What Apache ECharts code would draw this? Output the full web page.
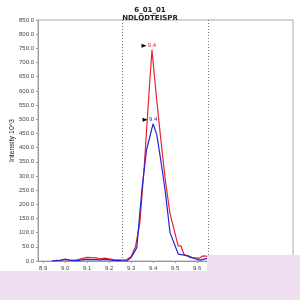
<!DOCTYPE html>
<html>
<head>
<meta charset="utf-8">
<script src="https://cdn.jsdelivr.net/npm/echarts@6/dist/echarts.min.js"></script>
<style>
  html, body { margin: 0; padding: 0; background: #fff; }
  #main { width: 300px; height: 300px; }
</style>
</head>
<body>
<div id="main"></div>
<script>
// retention time (min) and intensity (10^3)
var redTime = [8.94, 8.96, 8.98, 9.00, 9.02, 9.04, 9.06, 9.08, 9.10, 9.12, 9.14, 9.16, 9.18, 9.20, 9.22, 9.24, 9.26, 9.28, 9.30, 9.32, 9.34, 9.36, 9.38, 9.395, 9.415, 9.435, 9.455, 9.477, 9.514, 9.527, 9.54, 9.57, 9.61, 9.625, 9.65];
var redVal  = [0, 2, 3, 5, 3, 2, 5, 9, 13, 12, 11, 8, 10, 8, 5, 4, 3, 5, 15, 50, 135, 335, 575, 745, 580, 430, 290, 167, 53, 53, 24, 12, 10, 18, 16];
var blueTime = [8.94, 8.96, 8.98, 9.00, 9.02, 9.04, 9.06, 9.08, 9.10, 9.12, 9.14, 9.16, 9.18, 9.20, 9.22, 9.24, 9.26, 9.28, 9.30, 9.326, 9.349, 9.37, 9.40, 9.417, 9.436, 9.455, 9.477, 9.515, 9.56, 9.59, 9.614, 9.65];
var blueVal  = [0, 1, 2, 7, 3, 1, 2, 4, 6, 5, 5, 4, 6, 4, 2, 1, 1, 0, 12, 47, 249, 391, 484, 445, 350, 249, 100, 24, 18, 8, 3, 10];
var peakLabel = '9.4';
var boundaries = [9.264, 9.65];
var xTicks = [8.9, 9.0, 9.1, 9.2, 9.3, 9.4, 9.5, 9.6, 9.7, 9.8, 9.9, 10.0];

function pairs(t, v) {
  return t.map(function (x, i) { return [x, v[i]]; });
}

function peakMark(t, v, color) {
  var k = v.indexOf(Math.max.apply(null, v));
  return {
    silent: true,
    data: [
      { coord: [t[k], v[k]], symbol: 'triangle', symbolSize: [4, 5], symbolRotate: -90,
        symbolOffset: [-8, -4], itemStyle: { color: '#000' }, label: { show: false } },
      { coord: [t[k], v[k]], symbol: 'circle', symbolSize: 0,
        label: { show: true, position: 'top', distance: 1, formatter: peakLabel,
                 color: color, fontSize: 6, fontFamily: 'Liberation Sans' } }
    ]
  };
}

var chart = echarts.init(document.getElementById('main'));
chart.setOption({
  animation: false,
  backgroundColor: '#fff',
  title: {
    text: '6_01_01\nNDLQDTEISPR',
    left: 'center',
    top: 1,
    textStyle: { fontSize: 7, fontWeight: 'bold', color: '#222', lineHeight: 8, fontFamily: 'DejaVu Sans' }
  },
  grid: { left: 38, right: 7, top: 20, bottom: 39, outerBoundsMode: 'none', containLabel: false,
          show: true, borderColor: '#aaa', borderWidth: 1 },
  xAxis: {
    type: 'value',
    min: 8.877,
    max: 10.036,
    axisLine: { lineStyle: { color: '#999' } },
    axisTick: { show: true, length: 2, customValues: xTicks, lineStyle: { color: '#999' } },
    axisLabel: { customValues: xTicks, fontSize: 6, color: '#444', margin: 4, fontFamily: 'Liberation Sans',
                 formatter: function (v) { return v.toFixed(1); } },
    splitLine: { show: false }
  },
  yAxis: {
    type: 'value',
    min: 0,
    max: 850,
    interval: 50,
    name: 'Intensity 10^3',
    nameLocation: 'middle',
    nameGap: 22,
    nameMoveOverlap: false,
    nameTextStyle: { fontSize: 7, color: '#222', fontFamily: 'Liberation Sans' },
    axisLine: { show: true, lineStyle: { color: '#999' } },
    axisTick: { show: true, length: 2, lineStyle: { color: '#999' } },
    axisLabel: { fontSize: 6, color: '#444', margin: 4, fontFamily: 'Liberation Sans',
                 formatter: function (v) { return v.toFixed(1); } },
    splitLine: { show: false }
  },
  series: [
    {
      type: 'line',
      data: pairs(redTime, redVal),
      symbol: 'none',
      lineStyle: { color: '#e8242c', width: 1.2 },
      markPoint: peakMark(redTime, redVal, '#e8242c'),
      markLine: {
        silent: true,
        symbol: 'none',
        label: { show: false },
        lineStyle: { color: '#777', type: [1, 2], width: 1 },
        data: boundaries.map(function (b) { return { xAxis: b }; })
      },
      z: 3
    },
    {
      type: 'line',
      data: pairs(blueTime, blueVal),
      symbol: 'none',
      lineStyle: { color: '#2222d8', width: 1.2 },
      markPoint: peakMark(blueTime, blueVal, '#2222d8'),
      z: 4
    }
  ],
  graphic: [
    { type: 'rect', z: 100, shape: { x: 0, y: 271, width: 300, height: 29 }, style: { fill: '#f0dff0' } },
    { type: 'rect', z: 100, shape: { x: 207, y: 255, width: 93, height: 45 }, style: { fill: '#f0dff0' } }
  ]
});
</script>
</body>
</html>
